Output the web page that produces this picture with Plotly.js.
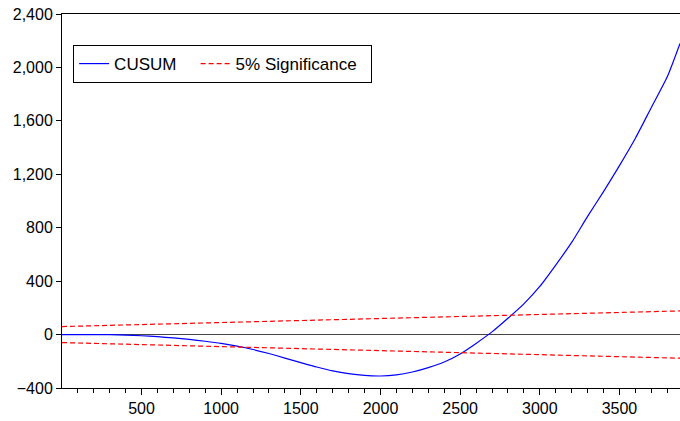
<!DOCTYPE html>
<html>
<head>
<meta charset="utf-8">
<script src="https://cdn.plot.ly/plotly-3.0.1.min.js"></script>
<style>html,body{margin:0;padding:0;background:#fff;}#chart{width:680px;height:421px;}</style>
</head>
<body>
<div id="chart"></div>
<script>
const obs = [1,100,200,300,400,500,600,700,800,900,1000,1100,1200,1300,1400,1500,1600,1700,1800,1900,2000,2100,2200,2300,2400,2500,2600,2700,2800,2900,3000,3100,3200,3300,3400,3500,3600,3700,3800,3880];
const cusum = [0,0,0,-1,-4,-9,-16,-25,-36,-50,-66,-87,-112,-142,-176,-210,-243,-272,-293,-306,-310,-302,-280,-247,-205,-145,-66,20,122,230,360,520,690,885,1070,1265,1470,1700,1930,2180];
const bandX = [1, 3880];
const upper = [60, 177];
const lower = [-60, -177];
const seriesNames = ['CUSUM', '5% Significance'];

const font = {family: 'Liberation Sans, Arial, sans-serif', size: 16, color: '#000'};
const legendFont = {family: 'Liberation Sans, Arial, sans-serif', size: 17, color: '#000'};
const nb = '\u00a0';

const traces = [
  {x: obs, y: cusum, type: 'scatter', mode: 'lines', name: seriesNames[0] + nb + nb + nb,
   line: {color: '#0000ff', width: 1.2, shape: 'spline', smoothing: 0.6}},
  {x: bandX, y: upper, type: 'scatter', mode: 'lines', name: seriesNames[1] + nb + nb,
   line: {color: '#ff0000', width: 1.2, dash: '5px,3px'}},
  {x: bandX, y: lower, type: 'scatter', mode: 'lines', name: seriesNames[1], showlegend: false,
   line: {color: '#ff0000', width: 1.2, dash: '5px,3px'}}
];

const layout = {
  width: 680, height: 421,
  margin: {l: 62, r: 0, t: 14, b: 33},
  paper_bgcolor: '#fff', plot_bgcolor: '#fff',
  font: font,
  showlegend: true,
  legend: {x: 0.018, y: 0.917, xanchor: 'left', yanchor: 'top', orientation: 'h',
           bordercolor: '#000', borderwidth: 1, bgcolor: '#fff', font: legendFont,
           itemwidth: 30, tracegroupgap: 0},
  xaxis: {range: [1, 3880], tick0: 0, dtick: 500, showgrid: false, zeroline: false,
          showline: true, linecolor: '#000', linewidth: 1, mirror: true,
          ticks: 'outside', ticklen: 6, tickcolor: '#000', tickfont: font,
          minor: {dtick: 100, ticks: 'outside', ticklen: 4, tickcolor: '#000', showgrid: false}},
  yaxis: {range: [-400, 2400], tick0: -400, dtick: 400, tickformat: ',d',
          showgrid: false, zeroline: true, zerolinecolor: '#444', zerolinewidth: 1,
          showline: true, linecolor: '#000', linewidth: 1, mirror: false,
          ticks: 'outside', ticklen: 5, tickcolor: '#000', tickfont: font}
};

Plotly.newPlot('chart', traces, layout, {displayModeBar: false, staticPlot: true});
</script>
</body>
</html>
